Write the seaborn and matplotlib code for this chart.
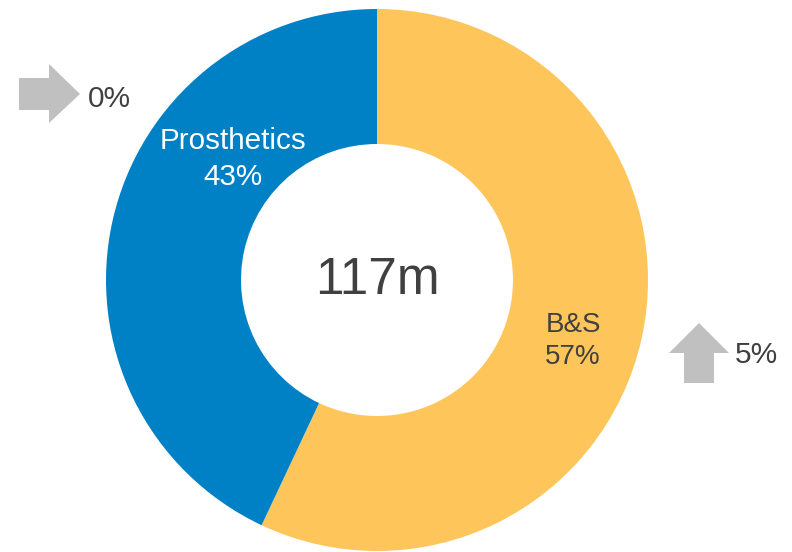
import matplotlib
matplotlib.use("Agg")
import matplotlib.pyplot as plt
from matplotlib.patches import Polygon
import seaborn as sns

# Data
categories = ["B&S", "Prosthetics"]
shares = [57, 43]
total_label = "117m"
changes = ["5%", "0%"]
colors = ["#FEC55A", "#0081C6"]

sns.set_theme(style="white")
plt.rcParams["font.family"] = ["Liberation Sans", "DejaVu Sans"]

W, H = 792, 552
fig = plt.figure(figsize=(W / 100, H / 100), dpi=100)
ax = fig.add_axes([0, 0, 1, 1])

cx, cy = 377, H - 280
R_out, R_in = 271, 136

ax.pie(shares, colors=colors, startangle=90, counterclock=False,
       center=(cx, cy), radius=R_out,
       wedgeprops=dict(width=R_out - R_in, edgecolor="none", linewidth=0))

ax.set_xlim(0, W)
ax.set_ylim(0, H)
ax.set_aspect("equal")
ax.axis("off")

dark = "#404040"
# centre total
ax.text(cx, cy, total_label, ha="center", va="center", fontsize=37, color=dark)

# segment labels
ax.text(573, H - 341, f"{categories[0]}\n{shares[0]}%", ha="center", va="center",
        fontsize=20, color=dark, linespacing=1.32)
ax.text(233, H - 159, f"{categories[1]}\n{shares[1]}%", ha="center", va="center",
        fontsize=21.3, color="white", linespacing=1.38)

grey = "#C0C0C0"
# right arrow (Prosthetics change)
ra = [(19, 78), (49, 78), (49, 64), (80, 94), (49, 123), (49, 110), (19, 110)]
ax.add_patch(Polygon([(x, H - y) for x, y in ra], closed=True, color=grey, lw=0))
ax.text(88, H - 99, changes[1], ha="left", va="center", fontsize=21.5, color=dark)

# up arrow (B&S change)
ua = [(684, 383), (684, 353), (669, 353), (699, 323), (729, 353), (714, 353), (714, 383)]
ax.add_patch(Polygon([(x, H - y) for x, y in ua], closed=True, color=grey, lw=0))
ax.text(735, H - 355, changes[0], ha="left", va="center", fontsize=21.5, color=dark)

fig.savefig("out.png", dpi=100)
